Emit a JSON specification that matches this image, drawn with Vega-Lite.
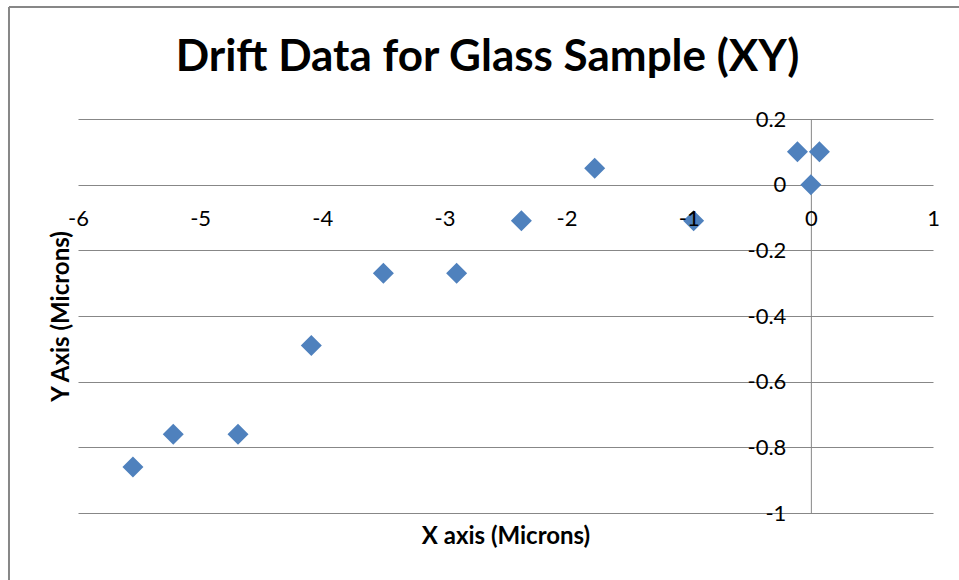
{
  "$schema": "https://vega.github.io/schema/vega-lite/v6.json",
  "width": 855,
  "height": 394,
  "autosize": "none",
  "padding": {"left": 78, "top": 119, "right": 26, "bottom": 67},
  "background": "white",
  "title": {
    "text": "Drift Data for Glass Sample (XY)",
    "font": "Lato",
    "fontSize": 44,
    "fontWeight": "bold",
    "color": "#000000",
    "anchor": "middle",
    "baseline": "alphabetic",
    "offset": 0,
    "dy": 109,
    "dx": -18
  },
  "config": {"view": {"stroke": null}},
  "layer": [
    {
      "data": {"values": [
        {"x": -5.55, "y": -0.86},
        {"x": -5.22, "y": -0.76},
        {"x": -4.69, "y": -0.76},
        {"x": -4.09, "y": -0.49},
        {"x": -3.5, "y": -0.27},
        {"x": -2.9, "y": -0.27},
        {"x": -2.37, "y": -0.11},
        {"x": -1.77, "y": 0.05},
        {"x": -0.96, "y": -0.11},
        {"x": -0.11, "y": 0.1},
        {"x": 0.07, "y": 0.1},
        {"x": 0, "y": 0}
      ]},
      "mark": {"type": "point", "shape": "diamond", "filled": true, "size": 441, "color": "#4F81BD", "opacity": 1, "strokeWidth": 0},
      "encoding": {
        "x": {
          "field": "x", "type": "quantitative",
          "scale": {"domain": [-6, 1], "nice": false, "zero": false},
          "axis": {
            "orient": "bottom", "offset": -328.33, "zindex": 1,
            "values": [-6, -5, -4, -3, -2, -1, 0, 1],
            "labelExpr": "toString(datum.value)",
            "title": "X axis (Microns)", "titleFont": "Lato", "titleFontSize": 24, "titleFontWeight": "bold", "titleColor": "#000000",
            "titleBaseline": "middle", "titleY": 352,
            "labelFont": "Lato", "labelFontSize": 22, "labelColor": "#000000", "labelPadding": 24,
            "labelFlush": false, "labelOverlap": false,
            "ticks": false, "tickSize": 0, "grid": false,
            "domain": false
          }
        },
        "y": {
          "field": "y", "type": "quantitative",
          "scale": {"domain": [-1, 0.2], "nice": false, "zero": false},
          "axis": {
            "orient": "left", "offset": -732.86,
            "values": [-1, -0.8, -0.6, -0.4, -0.2, 0, 0.2],
            "labelExpr": "toString(datum.value)",
            "title": "Y Axis (Microns)", "titleFont": "Lato", "titleFontSize": 24, "titleFontWeight": "bold", "titleColor": "#000000",
            "titleBaseline": "middle", "titleAngle": -90, "titleX": -749, "titleY": 197,
            "labelFont": "Lato", "labelFontSize": 22, "labelColor": "#000000", "labelPadding": 25,
            "labelFlush": false, "labelOverlap": false,
            "ticks": false, "tickSize": 0,
            "grid": true, "gridColor": "#878787", "gridWidth": 1,
            "domainColor": "#878787", "domainWidth": 1
          }
        }
      }
    },
    {
      "data": {"values": [{}]},
      "mark": {"type": "rule", "color": "#878787", "strokeWidth": 2},
      "encoding": {
        "x": {"datum": -6.565, "type": "quantitative"},
        "y": {"datum": 0.541, "type": "quantitative"},
        "y2": {"datum": -1.3}
      }
    },
    {
      "data": {"values": [{}]},
      "mark": {"type": "rule", "color": "#878787", "strokeWidth": 2},
      "encoding": {
        "x": {"datum": -6.565, "type": "quantitative"},
        "x2": {"datum": 1.3},
        "y": {"datum": 0.541, "type": "quantitative"}
      }
    }
  ]
}
